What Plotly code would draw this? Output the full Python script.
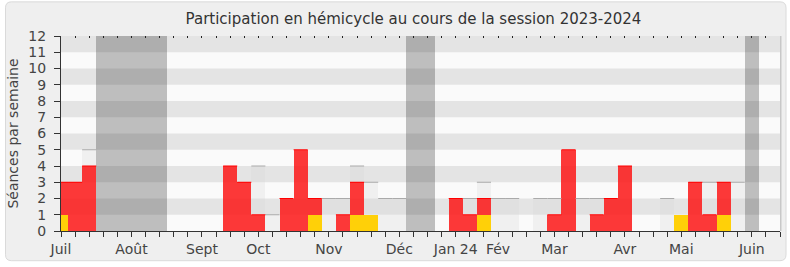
import plotly.graph_objects as go

# ---- data (one value per week, week 0 = first week of July 2023) ----
weeks = list(range(52))
seances = [3, 3, 5, 0, 0, 0, 0, 0, 0, 0, 0, 0, 4, 3, 4, 1, 2, 5, 2, 2,
           2, 4, 3, 2, 2, 0, 0, 0, 2, 2, 3, 2, 2, 0, 2, 2, 5, 2, 2, 2,
           4, 0, 0, 2, 1, 3, 3, 3, 3, 0, 0, 0]
presences = [3, 3, 4, 0, 0, 0, 0, 0, 0, 0, 0, 0, 4, 3, 1, 0, 2, 5, 2, 0,
             1, 3, 1, 0, 0, 0, 0, 0, 2, 1, 2, 0, 0, 0, 0, 1, 5, 0, 1, 2,
             4, 0, 0, 0, 1, 3, 1, 3, 0, 0, 0, 0]
interventions = [1, 0, 0, 0, 0, 0, 0, 0, 0, 0, 0, 0, 0, 0, 0, 0, 0, 0, 1, 0,
                 0, 1, 1, 0, 0, 0, 0, 0, 0, 0, 1, 0, 0, 0, 0, 0, 0, 0, 0, 0,
                 0, 0, 0, 0, 1, 0, 0, 1, 0, 0, 0, 0]
vacances = [3, 4, 5, 6, 7, 25, 26, 49]
month_labels = ["Juil", "Août", "Sept", "Oct", "Nov", "Déc", "Jan 24", "Fév",
                "Mar", "Avr", "Mai", "Juin"]
month_weeks = [0, 5, 10, 14, 19, 24, 28, 31, 35, 40, 44, 49]
y_max = 12

# ---- geometry helpers (pixels -> paper) ----
W, H = 790, 267
ML, MR, MT, MB = 61, 10, 36, 34
PW, PH = W - ML - MR, H - MT - MB


def px(x):
    return (x - ML) / PW


def py(y):
    return (H - MB - y) / PH


fig = go.Figure()

# vacation periods
fig.add_trace(go.Bar(x=vacances, y=[y_max] * len(vacances), width=1,
                     marker=dict(color="rgba(30,30,30,0.27)", line=dict(width=0)),
                     hoverinfo="skip", showlegend=False))
# total sessions
fig.add_trace(go.Bar(x=weeks, y=seances, width=1,
                     marker=dict(color="rgba(215,215,215,0.28)", line=dict(width=0)),
                     hoverinfo="skip", showlegend=False))
# presences
fig.add_trace(go.Bar(x=weeks, y=presences, width=1,
                     marker=dict(color="rgba(255,10,10,0.80)", line=dict(width=0)),
                     hoverinfo="skip", showlegend=False))
# interventions
fig.add_trace(go.Bar(x=weeks, y=interventions, width=1,
                     marker=dict(color="rgb(255,208,8)", line=dict(width=0)),
                     hoverinfo="skip", showlegend=False))

# top edges of bars
gx, gy, rx, ry = [], [], [], []
for w, s, p, i in zip(weeks, seances, presences, interventions):
    if s > p and s > 0:
        gx += [w - 0.5, w + 0.5, None]
        gy += [s, s, None]
    if p > i and p > 0:
        rx += [w - 0.5, w + 0.5, None]
        ry += [p, p, None]
fig.add_trace(go.Scatter(x=gx, y=gy, mode="lines", line=dict(color="#aaaaaa", width=1),
                         hoverinfo="skip", showlegend=False, cliponaxis=True))
fig.add_trace(go.Scatter(x=rx, y=ry, mode="lines", line=dict(color="#ff0000", width=1),
                         hoverinfo="skip", showlegend=False, cliponaxis=True))
# dummy trace for top tick axis
fig.add_trace(go.Scatter(x=[0], y=[0], xaxis="x2", mode="markers",
                         marker=dict(opacity=0), hoverinfo="skip", showlegend=False))

shapes = []
# outer rounded frame
x0, x1, y0, y1, r = 5.5, 786, 1.5, 263, 6
shapes.append(dict(
    type="path", xref="paper", yref="paper", layer="below",
    path=(f"M {px(x0 + r)},{py(y0)} L {px(x1 - r)},{py(y0)} "
          f"Q {px(x1)},{py(y0)} {px(x1)},{py(y0 + r)} L {px(x1)},{py(y1 - r)} "
          f"Q {px(x1)},{py(y1)} {px(x1 - r)},{py(y1)} L {px(x0 + r)},{py(y1)} "
          f"Q {px(x0)},{py(y1)} {px(x0)},{py(y1 - r)} L {px(x0)},{py(y0 + r)} "
          f"Q {px(x0)},{py(y0)} {px(x0 + r)},{py(y0)} Z"),
    fillcolor="#efefef", line=dict(color="#dadada", width=1)))
# plot background
shapes.append(dict(type="rect", xref="paper", yref="paper", x0=0, x1=1, y0=0, y1=1,
                   layer="below", fillcolor="#fafafa", line=dict(width=0)))
# alternating horizontal bands
for k in range(1, y_max, 2):
    shapes.append(dict(type="rect", xref="paper", yref="y", x0=0, x1=1, y0=k, y1=k + 1,
                       layer="below", fillcolor="#e4e4e4", line=dict(width=0)))
# right border
shapes.append(dict(type="line", xref="paper", yref="paper", x0=1.001, x1=1.001, y0=0, y1=1,
                   line=dict(color="#c8c8c8", width=1.5)))

ticktext = []
for w in weeks:
    ticktext.append(month_labels[month_weeks.index(w)] if w in month_weeks else "")

font = "DejaVu Sans"
fig.update_layout(
    width=W, height=H,
    margin=dict(l=ML, r=MR, t=MT, b=MB),
    paper_bgcolor="white", plot_bgcolor="rgba(0,0,0,0)",
    barmode="overlay", bargap=0,
    shapes=shapes,
    font=dict(family=font, size=14, color="#333333"),
    title=dict(text="Participation en hémicycle au cours de la session 2023-2024",
               x=413.5 / W, xref="container", xanchor="center",
               y=1 - 19 / H, yref="container", yanchor="middle",
               font=dict(family=font, size=15, color="#333333")),
    xaxis=dict(range=[0, 51], tickvals=weeks, ticktext=ticktext, tickangle=0,
               ticks="outside", ticklen=5, tickwidth=1, tickcolor="#333333",
               showline=True, linecolor="#333333", linewidth=1,
               showgrid=False, zeroline=False, fixedrange=True,
               ticklabelstandoff=0,
               tickfont=dict(size=14, color="#444444")),
    xaxis2=dict(range=[0, 51], overlaying="x", side="top", anchor="y",
                tickvals=weeks, showticklabels=False, ticks="inside",
                ticklen=2, tickwidth=1, tickcolor="#222222",
                showline=False, showgrid=False, zeroline=False),
    yaxis=dict(range=[0, y_max], tickvals=list(range(y_max + 1)),
               ticks="outside", ticklen=6, tickwidth=1, tickcolor="#333333",
               showline=True, linecolor="#333333", linewidth=1,
               showgrid=False, zeroline=False, fixedrange=True,
               ticklabelstandoff=5,
               tickfont=dict(size=14, color="#444444"),
               title=dict(text="Séances par semaine", standoff=6,
                          font=dict(size=14, color="#444444"))),
)

fig.write_html("out.html")
